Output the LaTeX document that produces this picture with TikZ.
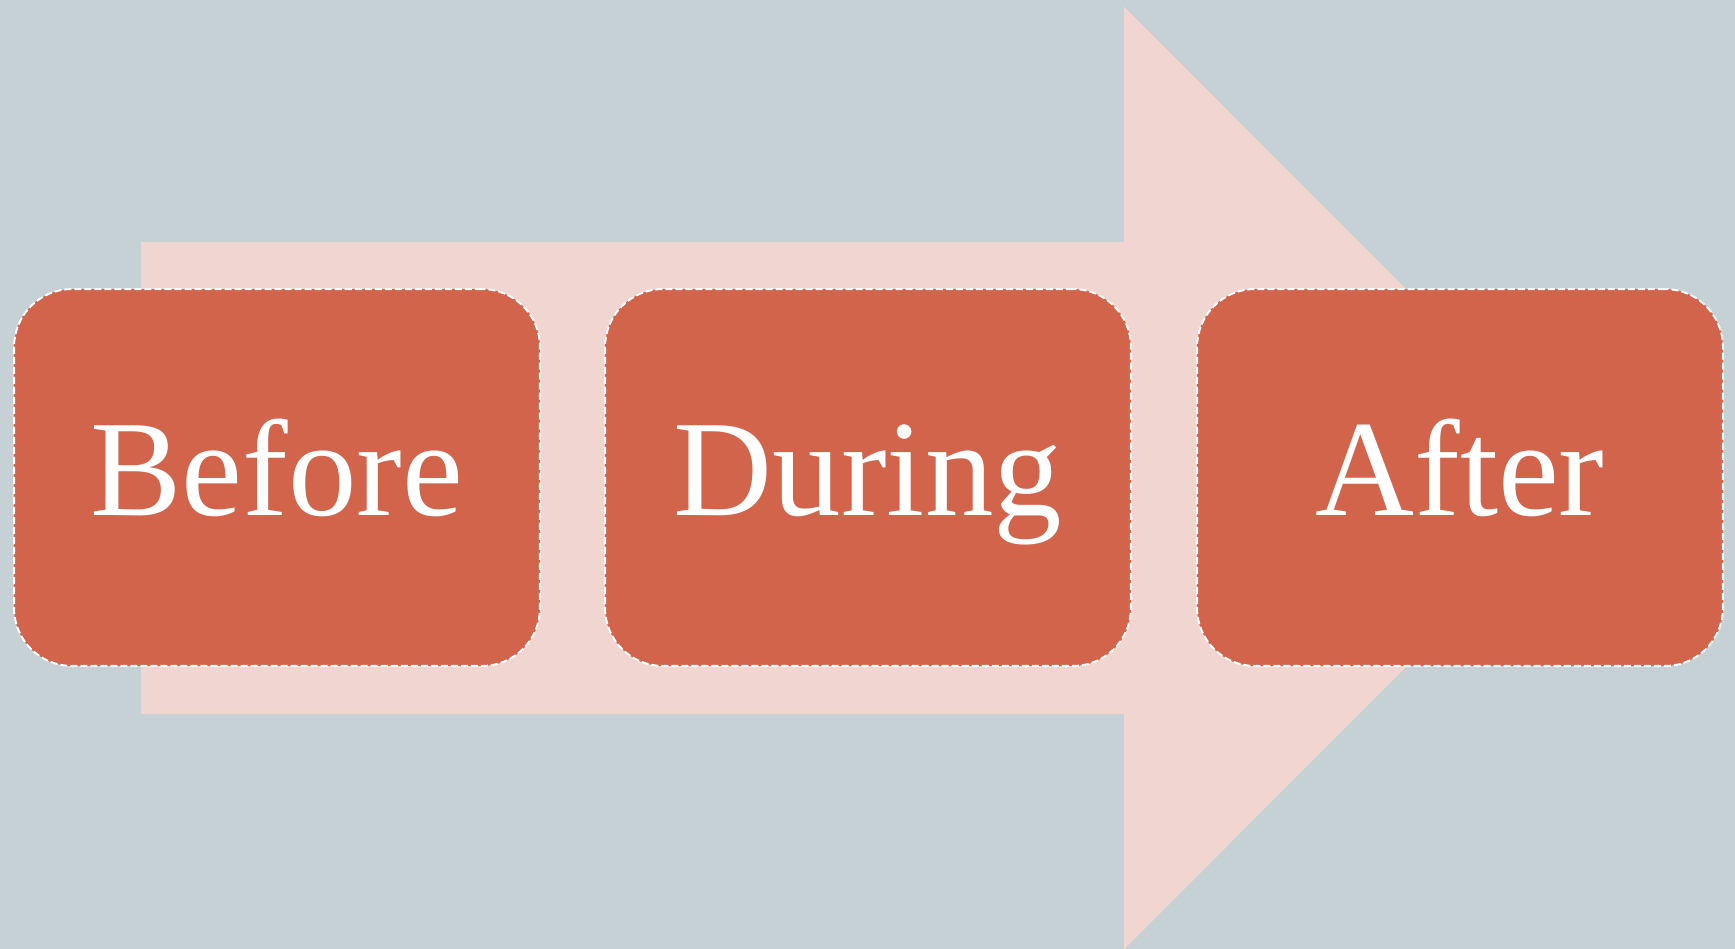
\documentclass[tikz,border=0pt]{standalone}
\usepackage{fontspec}
\setmainfont{Liberation Serif}
\definecolor{bgcol}{HTML}{C6D1D6}
\definecolor{arrowcol}{HTML}{F0D5D0}
\definecolor{boxcol}{HTML}{D1644A}
\begin{document}
\begin{tikzpicture}[x=0.02cm,y=-0.02cm,
  stagebox/.style={fill=boxcol, draw=white, line width=1.1pt,
    dash pattern=on 4pt off 1.7pt, rounded corners=1.16cm,
    minimum width=10.52cm, minimum height=7.54cm, inner sep=0pt,
    text height=43.2pt, text depth=0pt,
    text=white, font=\fontsize{78}{90}\selectfont}]
\fill[bgcol] (0,0) rectangle (1735,949);
\useasboundingbox (0,0) rectangle (1735,949);
\fill[arrowcol] (141,242) -- (1124,242) -- (1124,6.7) -- (1595,478) -- (1124,949.3) -- (1124,714) -- (141,714) -- cycle;
\node[stagebox] (before) at (277,477.5) {Before};
\node[stagebox] (during) at (868,477.5) {During};
\node[stagebox] (after) at (1460,477.5) {After};
\end{tikzpicture}
\end{document}
